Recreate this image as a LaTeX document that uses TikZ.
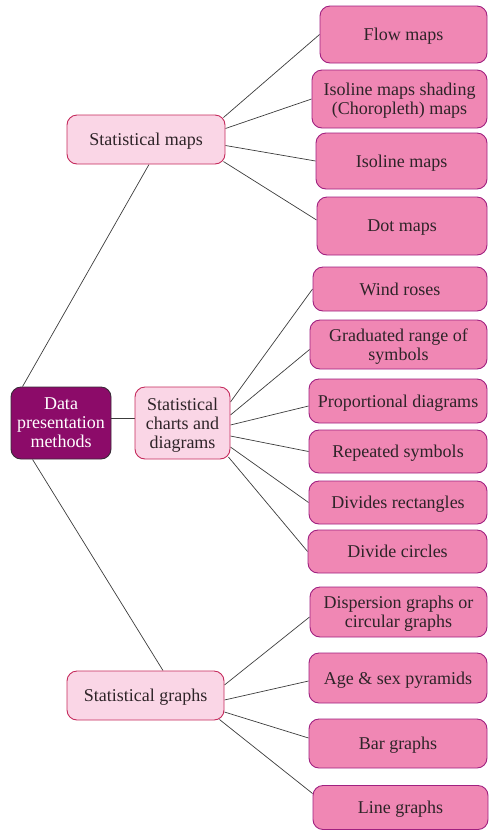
\documentclass[tikz,border=0pt]{standalone}
\usepackage{fontspec}
\setmainfont{Liberation Serif}
\usepackage{tikz}
\pgfdeclarelayer{background}
\pgfdeclarelayer{foreground}
\pgfsetlayers{background,main,foreground}

\definecolor{rootfill}{HTML}{8C0B69}
\definecolor{rootline}{HTML}{3A2A38}
\definecolor{midfill}{HTML}{FAD6E6}
\definecolor{midline}{HTML}{C52A5C}
\definecolor{leaffill}{HTML}{F087B4}
\definecolor{leafline}{HTML}{A02080}
\definecolor{textgray}{HTML}{2E2428}
\definecolor{linkgray}{HTML}{3C3C3C}

\tikzset{
  box/.style={rounded corners=10pt, inner sep=0pt, align=center,
    font=\fontsize{18}{19}\selectfont, line width=0.9pt, text depth=0pt},
  rootbox/.style={box, draw=rootline, fill=rootfill, text=white},
  midbox/.style={box, draw=midline, fill=midfill, text=textgray},
  leafbox/.style={box, draw=leafline, fill=leaffill, text=textgray},
  link/.style={draw=linkgray, line width=0.7pt}
}

\begin{document}
\begin{tikzpicture}[x=1pt,y=-1pt]
\useasboundingbox (0,0) rectangle (488,831);
\begin{pgfonlayer}{foreground}
% root and the three groups
\node[rootbox, minimum width=100pt, minimum height=72pt] (root) at (61,423) {Data\\presentation\\methods};
\node[midbox, minimum width=158pt, minimum height=49pt] (smaps) at (146,139.5) {Statistical maps};
\node[midbox, minimum width=95pt, minimum height=72pt] (charts) at (182.5,423) {Statistical\\charts and\\diagrams};
\node[midbox, minimum width=157pt, minimum height=49pt] (sgraphs) at (145.5,695.5) {Statistical graphs};
% maps
\node[leafbox, minimum width=167pt, minimum height=57pt] (flow) at (403.5,34.5) {Flow maps};
\node[leafbox, minimum width=175pt, minimum height=58pt] (choro) at (399.5,99) {Isoline maps shading\\(Choropleth) maps};
\node[leafbox, minimum width=171pt, minimum height=56pt] (isoline) at (401.5,161) {Isoline maps};
\node[leafbox, minimum width=170pt, minimum height=58pt] (dot) at (402,226) {Dot maps};
% charts and diagrams
\node[leafbox, minimum width=174pt, minimum height=44pt] (wind) at (400,289) {Wind roses};
\node[leafbox, minimum width=177pt, minimum height=49pt] (grad) at (398.5,344.5) {Graduated range of\\symbols};
\node[leafbox, minimum width=178pt, minimum height=44pt] (prop) at (398,401) {Proportional diagrams};
\node[leafbox, minimum width=178pt, minimum height=43pt] (repeat) at (398,451.5) {Repeated symbols};
\node[leafbox, minimum width=178pt, minimum height=43pt] (divrect) at (398,502.5) {Divides rectangles};
\node[leafbox, minimum width=179pt, minimum height=43pt] (divcirc) at (397.5,551.5) {Divide circles};
% graphs
\node[leafbox, minimum width=177pt, minimum height=50pt] (disp) at (398.5,612) {Dispersion graphs or\\circular graphs};
\node[leafbox, minimum width=178pt, minimum height=50pt] (pyramid) at (398,678) {Age \& sex pyramids};
\node[leafbox, minimum width=178pt, minimum height=49pt] (bar) at (398,743.5) {Bar graphs};
\node[leafbox, minimum width=175pt, minimum height=44pt] (linegr) at (400.5,807.5) {Line graphs};
\end{pgfonlayer}
\begin{pgfonlayer}{background}
\draw[link] ([xshift=12pt]root.north west) -- ([xshift=3pt]smaps.south);
\draw[link] ([yshift=5pt]root.east) -- ([yshift=5pt]charts.west);
\draw[link] ([xshift=22pt]root.south west) -- ([xshift=17.5pt]sgraphs.north);
% maps
\draw[link] ([xshift=-2pt,yshift=22pt]smaps.east) -- (flow.west);
\draw[link] ([yshift=11pt]smaps.east) -- (choro.west);
\draw[link] ([yshift=-6pt]smaps.east) -- (isoline.west);
\draw[link] ([xshift=-2pt,yshift=-22pt]smaps.east) -- ([yshift=6pt]dot.west);
% charts and diagrams
\draw[link] ([yshift=21pt]charts.east) -- (wind.west);
\draw[link] ([yshift=8pt]charts.east) -- ([yshift=-5pt]grad.west);
\draw[link] ([yshift=-2pt]charts.east) -- ([yshift=-5pt]prop.west);
\draw[link] ([yshift=-13pt]charts.east) -- (repeat.west);
\draw[link] ([yshift=-24pt]charts.east) -- (divrect.west);
\draw[link] ([xshift=-2pt,yshift=-34pt]charts.east) -- (divcirc.west);
% graphs
\draw[link] ([yshift=10.5pt]sgraphs.east) -- ([yshift=-5pt]disp.west);
\draw[link] ([yshift=-4.5pt]sgraphs.east) -- ([yshift=-3pt]pyramid.west);
\draw[link] ([yshift=-16.5pt]sgraphs.east) -- ([yshift=5.5pt]bar.west);
\draw[link] ([xshift=-5pt,yshift=-24pt]sgraphs.east) -- ([yshift=14pt]linegr.west);
\end{pgfonlayer}
\end{tikzpicture}
\end{document}
